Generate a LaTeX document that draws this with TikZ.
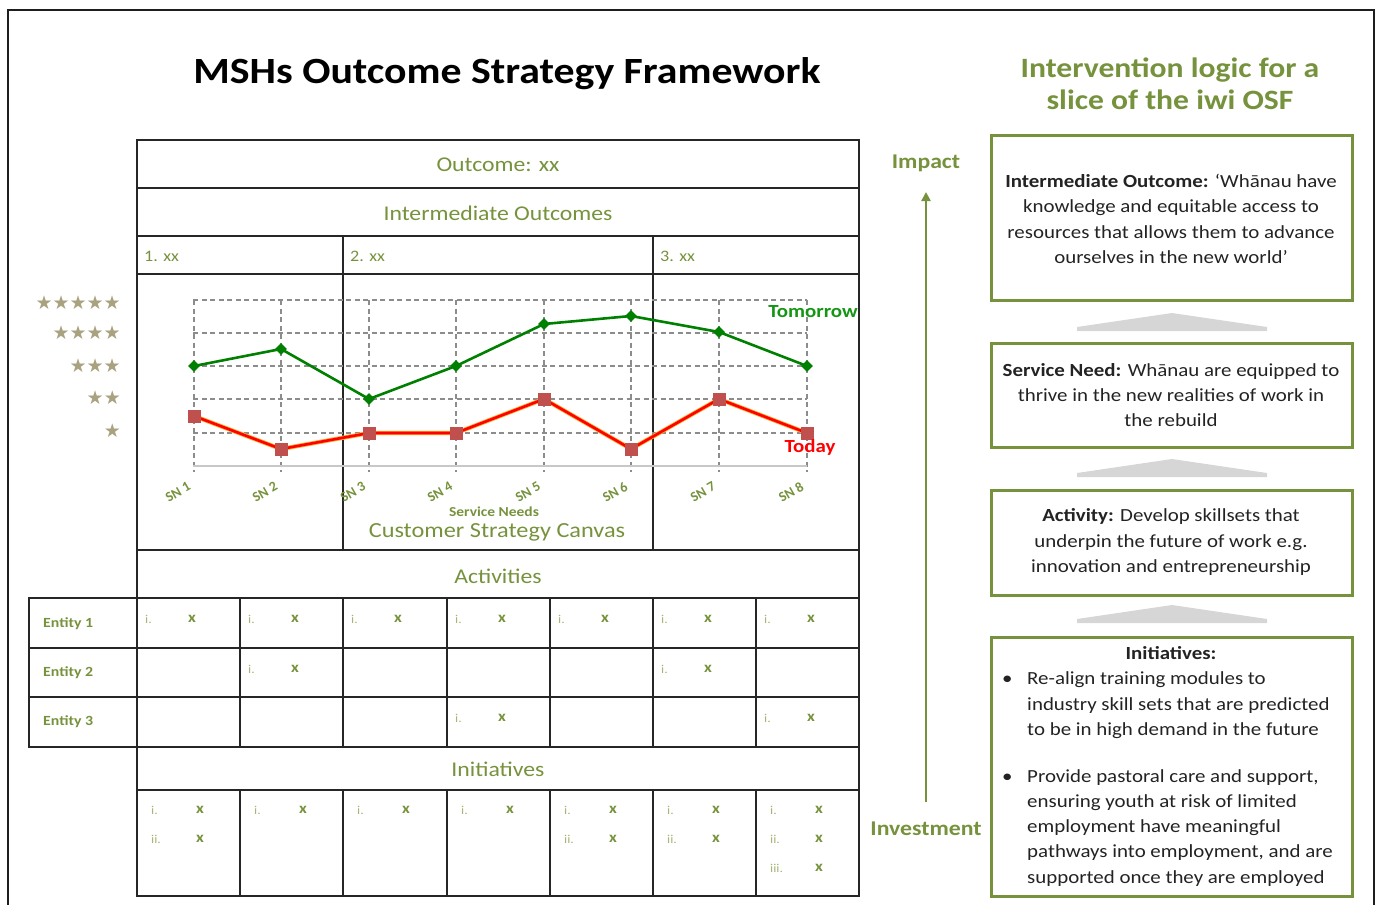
\documentclass[tikz,border=0pt]{standalone}
\usepackage{fontspec}
\setmainfont{Carlito}
\newfontfamily\starfont{DejaVu Sans}
\usetikzlibrary{arrows.meta,shapes.geometric}

\definecolor{olive}{RGB}{118,146,60}
\definecolor{paleolive}{RGB}{165,182,118}
\definecolor{starcol}{RGB}{168,162,128}
\definecolor{gridgray}{RGB}{140,140,140}
\definecolor{basegray}{RGB}{200,200,200}
\definecolor{rulecol}{RGB}{38,38,38}
\definecolor{framecol}{RGB}{30,30,30}
\definecolor{tmrwgreen}{RGB}{0,128,0}
\definecolor{tmrwlabel}{RGB}{20,150,20}
\definecolor{todayred}{RGB}{255,0,0}
\definecolor{todayglow}{RGB}{255,170,40}
\definecolor{todaymark}{RGB}{192,80,77}
\definecolor{textdark}{RGB}{35,35,35}
\definecolor{wedgegray}{RGB}{214,214,214}

\tikzset{
  wide/.style={xscale=1.13},
  rule/.style={draw=rulecol, line width=1.8pt},
  gridline/.style={draw=gridgray, line width=1.2pt, dash pattern=on 5pt off 3.5pt},
  hdr/.style={wide, text=olive, inner sep=0pt, font=\fontsize{21}{24}\selectfont},
  colhdr/.style={wide, text=olive, inner sep=0pt, anchor=west, font=\fontsize{16}{18}\selectfont},
  roman/.style={wide, text=paleolive, inner sep=0pt, anchor=west, font=\fontsize{12}{14}\selectfont},
  xmark/.style={wide, text=olive, inner sep=0pt, font=\fontsize{15}{18}\selectfont\bfseries},
  entity/.style={wide, text=olive, inner sep=0pt, anchor=west, font=\fontsize{14}{16}\selectfont\bfseries},
  stars/.style={text=starcol, inner sep=0pt, anchor=east, font=\starfont\fontsize{19}{20}\selectfont},
  snlabel/.style={text=olive, inner sep=0pt, rotate=30, font=\fontsize{14}{16}\selectfont\bfseries},
  tmrwmark/.style={diamond, fill=tmrwgreen, inner sep=0pt, minimum width=12pt, minimum height=12pt},
  todaymarkstyle/.style={rectangle, fill=todaymark, inner sep=0pt, minimum size=13pt},
  boxline/.style={draw=olive, line width=3pt},
  boxtext/.style={wide, text=textdark, inner sep=0pt, align=center, font=\fontsize{18.5}{25.4}\selectfont},
  linetext/.style={wide, text=textdark, inner sep=0pt, anchor=west, text height=13pt, text depth=4pt, font=\fontsize{18.5}{25.4}\selectfont},
  wedge/.style={fill=wedgegray},
  axislabel/.style={wide, text=olive, inner sep=0pt, font=\fontsize{21}{24}\selectfont\bfseries},
}

\begin{document}
\begin{tikzpicture}[x=1pt,y=-1pt]
\useasboundingbox (0,0) rectangle (1380,904);

% outer frame; its lower edge runs past the page
\draw[draw=framecol, line width=2.5pt] (8,930) -- (8,10) -- (1374,10) -- (1374,930);

% titles
\node[wide, text=black, inner sep=0pt, font=\fontsize{37}{40}\selectfont\bfseries] (title) at (507,74) {MSHs Outcome Strategy Framework};
\node[wide, text=olive, inner sep=0pt, align=center, font=\fontsize{28}{32}\selectfont\bfseries] (rtitle) at (1170,84) {Intervention logic for a\\slice of the iwi OSF};

% ---------------- framework table ----------------
\draw[rule] (137,140) rectangle (859,896);
\foreach \yy in {188,236,274,550,598,747,790}
  \draw[rule] (137,\yy) -- (859,\yy);
\draw[rule] (343,236) -- (343,550);
\draw[rule] (653,236) -- (653,550);
% entity block
\draw[rule] (29,598) rectangle (137,747);
\draw[rule] (29,648) -- (859,648);
\draw[rule] (29,697) -- (859,697);
\foreach \xx in {240,343,447,550,653,756} {
  \draw[rule] (\xx,598) -- (\xx,747);
  \draw[rule] (\xx,790) -- (\xx,896);
}

\node[hdr] (outcome) at (498,165) {Outcome: xx};
\node[hdr] (interm) at (498,213) {Intermediate Outcomes};
\node[colhdr] (io1) at (144,256) {1. xx};
\node[colhdr] (io2) at (350,256) {2. xx};
\node[colhdr] (io3) at (660,256) {3. xx};
\node[hdr] (activities) at (498,576) {Activities};
\node[hdr] (initiatives) at (498,769) {Initiatives};

\node[entity] (ent1) at (43,624) {Entity 1};
\node[entity] (ent2) at (43,673) {Entity 2};
\node[entity] (ent3) at (43,722) {Entity 3};

% activity marks per entity
\foreach \l in {137,240,343,447,550,653,756} {
  \node[roman] (a1r-\l) at (\l+8,619) {i.};
  \node[xmark] (a1x-\l) at (\l+55,619) {x};
}
\foreach \l in {240,653} {
  \node[roman] (a2r-\l) at (\l+8,669) {i.};
  \node[xmark] (a2x-\l) at (\l+55,669) {x};
}
\foreach \l in {447,756} {
  \node[roman] (a3r-\l) at (\l+8,718) {i.};
  \node[xmark] (a3x-\l) at (\l+55,718) {x};
}

% initiative marks
\foreach \l in {137,240,343,447,550,653,756} {
  \node[roman] (n1r-\l) at (\l+14,810) {i.};
  \node[xmark] (n1x-\l) at (\l+63,810) {x};
}
\foreach \l in {137,550,653,756} {
  \node[roman] (n2r-\l) at (\l+14,839) {ii.};
  \node[xmark] (n2x-\l) at (\l+63,839) {x};
}
\node[roman] (n3r) at (770,868) {iii.};
\node[xmark] (n3x) at (819,868) {x};

% ---------------- customer strategy canvas ----------------
\node[stars] (s5) at (121,303) {★★★★★};
\node[stars] (s4) at (121,333) {★★★★};
\node[stars] (s3) at (121,366) {★★★};
\node[stars] (s2) at (121,398) {★★};
\node[stars] (s1) at (121,431) {★};

\foreach \yy in {300,333,366,399,433}
  \draw[gridline] (193,\yy) -- (807,\yy);
\foreach \xx in {194,281,369,456,544,631,719,807}
  \draw[gridline] (\xx,300) -- (\xx,472);
\draw[draw=basegray, line width=1.6pt] (193,466) -- (807,466);

\foreach \xx/\n in {194/1,281/2,369/3,456/4,544/5,631/6,719/7,807/8}
  \node[snlabel] (sn\n) at (\xx-16,492) {SN \n};

\node[wide, text=olive, inner sep=0pt, font=\fontsize{13.7}{15}\selectfont\bfseries] (svcneeds) at (494,512) {Service Needs};
\node[wide, text=olive, inner sep=0pt, font=\fontsize{21.5}{25}\selectfont] (canvas) at (497,532) {Customer Strategy Canvas};

% today series
\draw[draw=todayglow, line width=4.2pt, line join=round]
  (194,416) -- (281,449) -- (369,433) -- (456,433) -- (544,399) -- (631,449) -- (719,399) -- (807,433);
\draw[draw=todayred, line width=2.6pt, line join=round]
  (194,416) -- (281,449) -- (369,433) -- (456,433) -- (544,399) -- (631,449) -- (719,399) -- (807,433);
\foreach \xx/\yy/\n in {194/416/1,281/449/2,369/433/3,456/433/4,544/399/5,631/449/6,719/399/7,807/433/8}
  \node[todaymarkstyle] (td\n) at (\xx,\yy) {};

% tomorrow series
\draw[draw=tmrwgreen, line width=2.6pt, line join=round]
  (194,366) -- (281,349) -- (369,399) -- (456,366) -- (544,324) -- (631,316) -- (719,332) -- (807,366);
\foreach \xx/\yy/\n in {194/366/1,281/349/2,369/399/3,456/366/4,544/324/5,631/316/6,719/332/7,807/366/8}
  \node[tmrwmark] (tm\n) at (\xx,\yy) {};

\node[wide, text=tmrwlabel, inner sep=0pt, font=\fontsize{18.5}{20}\selectfont\bfseries] (tomorrow) at (813,312) {Tomorrow};
\node[wide, text=todayred, inner sep=0pt, font=\fontsize{18.5}{20}\selectfont\bfseries] (today) at (810,447) {Today};

% ---------------- investment / impact axis ----------------
\node[axislabel] (impact) at (926,163) {Impact};
\node[axislabel] (investment) at (926,829) {Investment};
\coordinate (axisfoot) at (926,802);
\coordinate (axishead) at (926,192);
\draw[draw=olive, line width=2.6pt, -{Triangle[length=9pt,width=9pt]}] (axisfoot) -- (axishead);

% ---------------- intervention logic boxes ----------------
\draw[boxline] (991,136) rectangle (1352,300);
\draw[boxline] (991,343) rectangle (1352,447);
\draw[boxline] (991,490) rectangle (1352,595);
\draw[boxline] (991,637) rectangle (1352,896);

\foreach \b in {331,477,623}
  \fill[wedge] (1077,\b) -- (1077,\b-4) -- (1172,\b-18) -- (1267,\b-4) -- (1267,\b) -- cycle;

\node[boxtext] (iotext) at (1171,219)
  {\textbf{Intermediate Outcome:} ‘Whānau have\\knowledge and equitable access to\\resources that allows them to advance\\ourselves in the new world’};
\node[boxtext] (sntext) at (1171,395)
  {\textbf{Service Need:} Whānau are equipped to\\thrive in the new realities of work in\\the rebuild};
\node[boxtext] (acttext) at (1171,542)
  {\textbf{Activity:} Develop skillsets that\\underpin the future of work e.g.\\innovation and entrepreneurship};

\node[linetext, anchor=center] (inihead) at (1171,655) {\textbf{Initiatives:}};
\node[linetext] (bul1) at (1002,680) {•};
\node[linetext] (b1l1) at (1027,680) {Re-align training modules to};
\node[linetext] (b1l2) at (1027,706) {industry skill sets that are predicted};
\node[linetext] (b1l3) at (1027,731) {to be in high demand in the future};
\node[linetext] (bul2) at (1002,778) {•};
\node[linetext] (b2l1) at (1027,778) {Provide pastoral care and support,};
\node[linetext] (b2l2) at (1027,803) {ensuring youth at risk of limited};
\node[linetext] (b2l3) at (1027,828) {employment have meaningful};
\node[linetext] (b2l4) at (1027,853) {pathways into employment, and are};
\node[linetext] (b2l5) at (1027,879) {supported once they are employed};

\end{tikzpicture}
\end{document}
